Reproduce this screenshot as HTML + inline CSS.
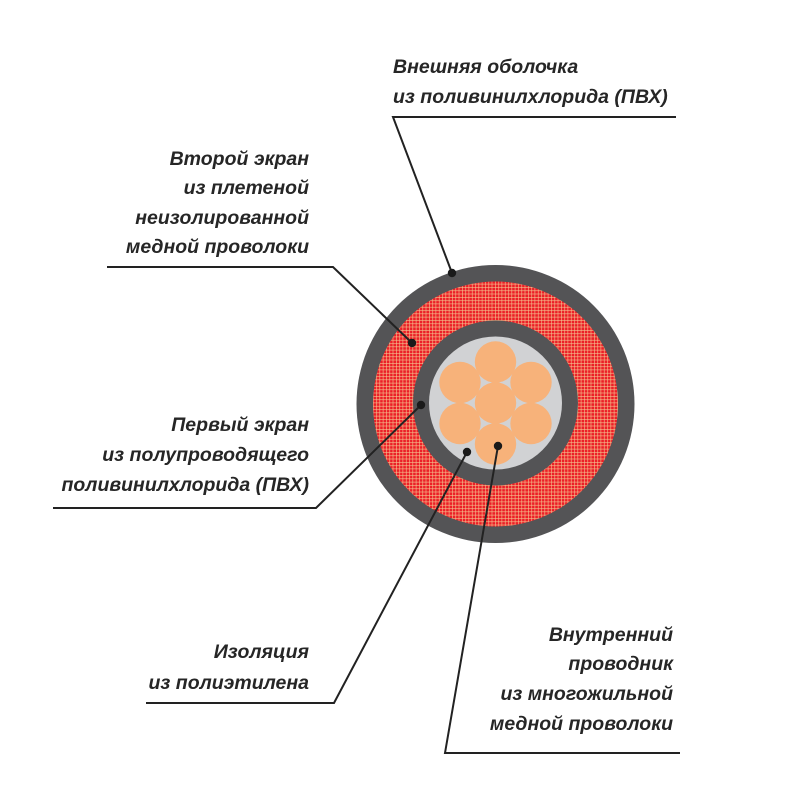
<!DOCTYPE html>
<html><head><meta charset="utf-8"><style>
html,body{margin:0;padding:0;background:#fff;}
svg{display:block;}
text{font-family:"Liberation Sans","DejaVu Sans",sans-serif;font-style:italic;font-weight:bold;font-size:19.5px;fill:#262626;}
</style></head><body>
<svg width="800" height="800" viewBox="0 0 800 800" xmlns="http://www.w3.org/2000/svg">
<defs>
<pattern id="hatch" width="3.3" height="3.3" patternUnits="userSpaceOnUse">
<rect width="3.3" height="3.3" fill="#ec1f27"/>
<rect x="0" y="0" width="0.6" height="3.3" fill="#f3c48f"/>
<rect x="0" y="0" width="3.3" height="0.6" fill="#f3c48f"/>
</pattern>
</defs>
<circle cx="495.5" cy="404" r="139" fill="#545456"/>
<circle cx="495.5" cy="404" r="122.5" fill="url(#hatch)"/>
<circle cx="495.5" cy="403" r="82.5" fill="#545456"/>
<circle cx="495.5" cy="403" r="66.5" fill="#d1d2d4"/>
<g fill="#f7b27a">
<circle cx="495.5" cy="362" r="20.7"/>
<circle cx="531" cy="382.5" r="20.7"/>
<circle cx="531" cy="423.5" r="20.7"/>
<circle cx="495.5" cy="444" r="20.7"/>
<circle cx="460" cy="423.5" r="20.7"/>
<circle cx="460" cy="382.5" r="20.7"/>
<circle cx="495.5" cy="403" r="20.7"/>
</g>
<g stroke="#222" stroke-width="2" fill="none">
<polyline points="452,273 393,117 676,117"/>
<polyline points="412,343 333,267 107,267"/>
<polyline points="421,405 316,508 53,508"/>
<polyline points="467,452 334,703 146,703"/>
<polyline points="498,446 445,753 680,753"/>
</g>
<g fill="#1a1a1a">
<circle cx="452" cy="273" r="4.2"/>
<circle cx="412" cy="343" r="4.2"/>
<circle cx="421" cy="405" r="4.2"/>
<circle cx="467" cy="452" r="4.2"/>
<circle cx="498" cy="446" r="4.2"/>
</g>
<text x="393" y="73">Внешняя оболочка</text>
<text x="393" y="103">из поливинилхлорида (ПВХ)</text>
<g text-anchor="end">
<text x="309" y="165">Второй экран</text>
<text x="309" y="194">из плетеной</text>
<text x="309" y="224">неизолированной</text>
<text x="309" y="253">медной проволоки</text>
<text x="309" y="431">Первый экран</text>
<text x="309" y="461">из полупроводящего</text>
<text x="309" y="491">поливинилхлорида (ПВХ)</text>
<text x="309" y="658">Изоляция</text>
<text x="309" y="689">из полиэтилена</text>
<text x="673" y="641">Внутренний</text>
<text x="673" y="670">проводник</text>
<text x="673" y="700">из многожильной</text>
<text x="673" y="730">медной проволоки</text>
</g>
</svg>
</body></html>
